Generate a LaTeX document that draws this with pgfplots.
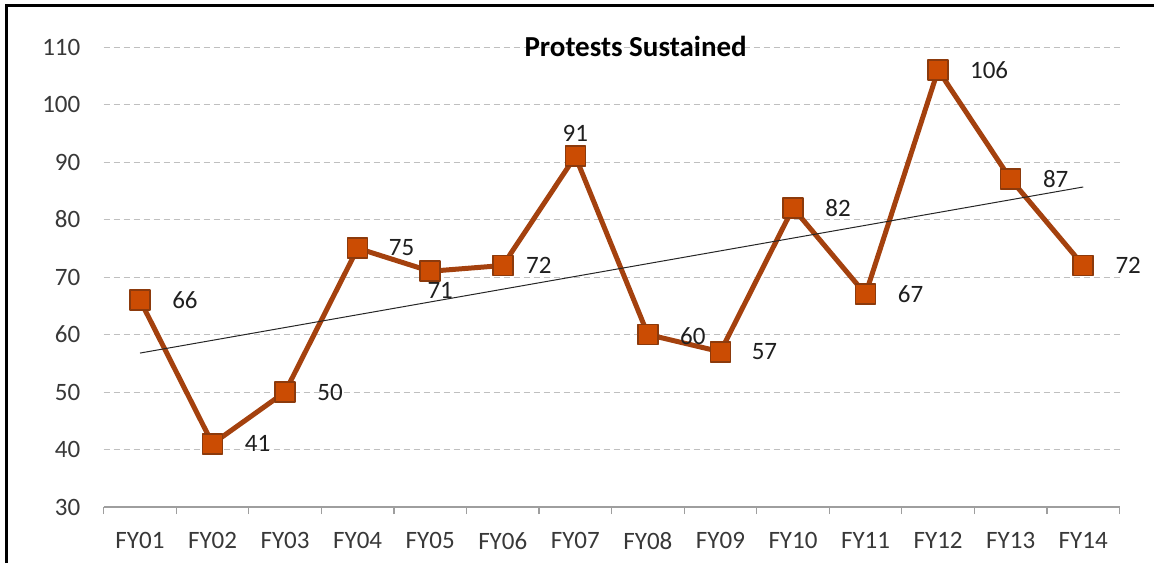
\documentclass[border=0pt]{standalone}
\usepackage{pgfplots}
\usepackage{pgfplotstable}
\pgfplotsset{compat=1.18}
\usepackage{fontspec}
\setmainfont{Carlito}
\definecolor{lineC}{HTML}{A4410E}
\definecolor{markF}{HTML}{CB4C03}
\definecolor{markE}{HTML}{8C3A0C}
\definecolor{tickC}{HTML}{383838}

% xs, ys: offset of the label centre from the point, in pt
\pgfplotstableread{
x y xs ys
0 66 22.5 0
1 41 22.5 0
2 50 22.5 0
3 75 22 0.5
4 71 5 -9.5
5 72 18 0
6 91 0 11.5
7 60 22.5 -1
8 57 22 0
9 82 22.5 0
10 67 22.5 0
11 106 25.5 0
12 87 22.5 0
13 72 22.5 0
}\data

\begin{document}
\begin{tikzpicture}
  \useasboundingbox (0,0) rectangle (577pt,281.5pt);
  \draw[line width=1.5pt] (3pt,0) -- (3pt,278.5pt) -- (580pt,278.5pt);
  \begin{axis}[
      at={(51.85pt,28pt)}, anchor=south west,
      scale only axis, width=507.9pt, height=230pt,
      xmin=-0.5, xmax=13.5, ymin=30, ymax=110,
      ytick={30,40,...,110},
      xtick={0,...,13},
      xticklabels={FY01,FY02,FY03,FY04,FY05,FY06,FY07,FY08,FY09,FY10,FY11,FY12,FY13,FY14},
      minor xtick={-0.5,0.5,...,13.5},
      axis x line*=bottom, axis y line*=left,
      x axis line style={draw=black!38, line width=0.6pt, -},
      y axis line style={draw=none},
      major tick length=0pt, minor tick length=3.5pt,
      xtick align=outside,
      major x tick style={draw=none}, ytick style={draw=none},
      minor x tick style={draw=black!38, line width=0.6pt},
      ymajorgrids,
      major grid style={draw=black!25, line width=0.5pt, dash pattern=on 3pt off 2pt},
      ticklabel style={font=\fontsize{12.5}{14}\selectfont, text=tickC, inner sep=0pt},
      yticklabel style={anchor=east, xshift=-11.5pt},
      xticklabel style={anchor=north, yshift=-12.5pt},
      /pgf/number format/assume math mode=true,
      title={Protests Sustained},
      title style={font=\fontsize{14.5}{16}\selectfont\bfseries, at={(0.5,1)}, anchor=center, xshift=12pt, yshift=-5.5pt},
      clip=false,
    ]
    \addplot[color=lineC, line width=2.5pt, line join=round,
      mark=square*, mark size=5pt,
      mark options={fill=markF, draw=markE, line width=0.8pt},
      nodes near coords,
      point meta=explicit,
      visualization depends on={\thisrow{xs}\as\xs},
      visualization depends on={\thisrow{ys}\as\ys},
      every node near coord/.append style={font=\fontsize{12.5}{14}\selectfont, text=black!88, inner sep=0pt, anchor=center, xshift=\xs, yshift=\ys},
    ] table[x=x, y=y, meta=y] {\data};
    \addplot[no markers, draw=black!85, line width=0.5pt]
      table[x=x, y={create col/linear regression={y=y}}] {\data};
  \end{axis}
\end{tikzpicture}
\end{document}
